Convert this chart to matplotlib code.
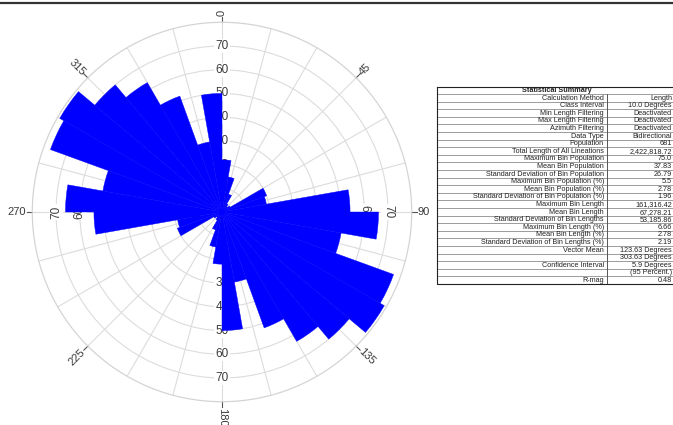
import numpy as np
import matplotlib.pyplot as plt

# bidirectional rose, 10 degree classes from 0 to 180 (mirrored to 180-360)
bin_starts = list(range(0, 180, 10))
bin_values = [22, 15, 8, 4, 3, 4, 20, 19, 54, 66, 51, 77, 79, 70, 63, 52, 30, 50]
ring_values = [10, 20, 30, 40, 50, 60, 70]
angle_labels = [0, 45, 90, 135, 180, 225, 270, 315]

summary_labels = [
    "Calculation Method", "Class Interval", "Min Length Filtering",
    "Max Length Filtering", "Azimuth Filtering", "Data Type", "Population",
    "Total Length of All Lineations", "Maximum Bin Population",
    "Mean Bin Population", "Standard Deviation of Bin Population",
    "Maximum Bin Population (%)", "Mean Bin Population (%)",
    "Standard Deviation of Bin Population (%)", "Maximum Bin Length",
    "Mean Bin Length", "Standard Deviation of Bin Lengths",
    "Maximum Bin Length (%)", "Mean Bin Length (%)",
    "Standard Deviation of Bin Lengths (%)", "Vector Mean", "",
    "Confidence Interval", "", "R-mag",
]
summary_values = [
    "Length", "10.0 Degrees", "Deactivated", "Deactivated", "Deactivated",
    "Bidirectional", "681", "2,422,818.72", "75.0", "37.83", "26.79", "5.5",
    "2.78", "1.96", "161,316.42", "67,278.21", "53,185.86", "6.66", "2.78",
    "2.19", "123.63 Degrees", "303.63 Degrees", "5.9 Degrees",
    "(95 Percent.)", "0.48",
]

plt.rcParams['font.family'] = ['Liberation Sans', 'DejaVu Sans']

W, H = 673, 425
fig = plt.figure(figsize=(W / 100, H / 100), dpi=100)

# rose diagram
cx, cy, rad = 222, 212, 189.7
ax = fig.add_axes([(cx - rad) / W, 1 - (cy + rad) / H, 2 * rad / W, 2 * rad / H],
                  projection='polar')
ax.set_theta_zero_location('N')
ax.set_theta_direction(-1)
ax.set_ylim(0, 80)

theta = np.deg2rad(np.array(bin_starts + [b + 180 for b in bin_starts]))
r = np.array(bin_values + bin_values)
ax.bar(theta, r, width=np.deg2rad(10), align='edge', color='#0000ff',
       edgecolor='#0000ff', linewidth=0.3, zorder=3)

ax.set_yticks(ring_values)
ax.set_yticklabels([])
ax.set_xticks(np.deg2rad(np.arange(0, 360, 15)))
ax.set_xticklabels([])
ax.set_axisbelow(True)
ax.grid(color='#dcdcdc', linewidth=0.8)
ax.spines['polar'].set_color('#d4d4d4')
ax.spines['polar'].set_linewidth(0.9)

lab_col = '#3a3a3a'
for a in angle_labels:
    t = np.deg2rad(a)
    ax.plot([t, t], [80, 82.4], color='#555555', linewidth=0.8, clip_on=False)
    math_ang = (90 - a) % 360
    if math_ang > 180:
        math_ang -= 360
    if -90 <= math_ang <= 90:
        rot, ha = math_ang, 'left'
    else:
        rot, ha = (math_ang - 180 if math_ang > 0 else math_ang + 180), 'right'
    ax.text(t, 82.5, str(a), rotation=rot, rotation_mode='anchor', ha=ha,
            va='center', fontsize=8, color=lab_col, clip_on=False)

box = dict(boxstyle='square,pad=0.1', fc='white', ec='none')
for v in ring_values:
    for a, rot in [(0, 0), (180, 0), (90, -90), (270, 90)]:
        ax.text(np.deg2rad(a), v, str(v), rotation=rot, ha='center',
                va='center', fontsize=8.5, color=lab_col, bbox=box, zorder=2.5)

# overlay for the summary table and header rule
tx = fig.add_axes([0, 0, 1, 1])
tx.set_xlim(0, W)
tx.set_ylim(H, 0)
tx.axis('off')
tx.patch.set_alpha(0)

tx.plot([0, W], [3, 3], color='#333333', linewidth=1.6)

left, right, top, bottom = 437, 676, 86.5, 284
n_rows = len(summary_labels) + 1
rh = (bottom - top) / n_rows
divx = 607
for i in range(1, n_rows):
    y = top + i * rh
    tx.plot([left, right], [y, y], color='#8c8c8c', linewidth=0.6)
tx.plot([divx, divx], [top + rh, bottom], color='#555555', linewidth=0.7)
tx.plot([left, right, right, left, left], [top, top, bottom, bottom, top],
        color='#222222', linewidth=0.8, clip_on=False)

fs = 5.2
tx.text((left + right) / 2, top + rh / 2 + 0.3, "Statistical Summary",
        ha='center', va='center', fontsize=fs, fontweight='bold', color='#222222')
for i, (lab, val) in enumerate(zip(summary_labels, summary_values)):
    yc = top + (i + 1.5) * rh + 0.3
    tx.text(divx - 3, yc, lab, ha='right', va='center', fontsize=fs, color='#222222')
    tx.text(672, yc, val, ha='right', va='center', fontsize=fs, color='#222222')

fig.savefig('out.png', dpi=100)
